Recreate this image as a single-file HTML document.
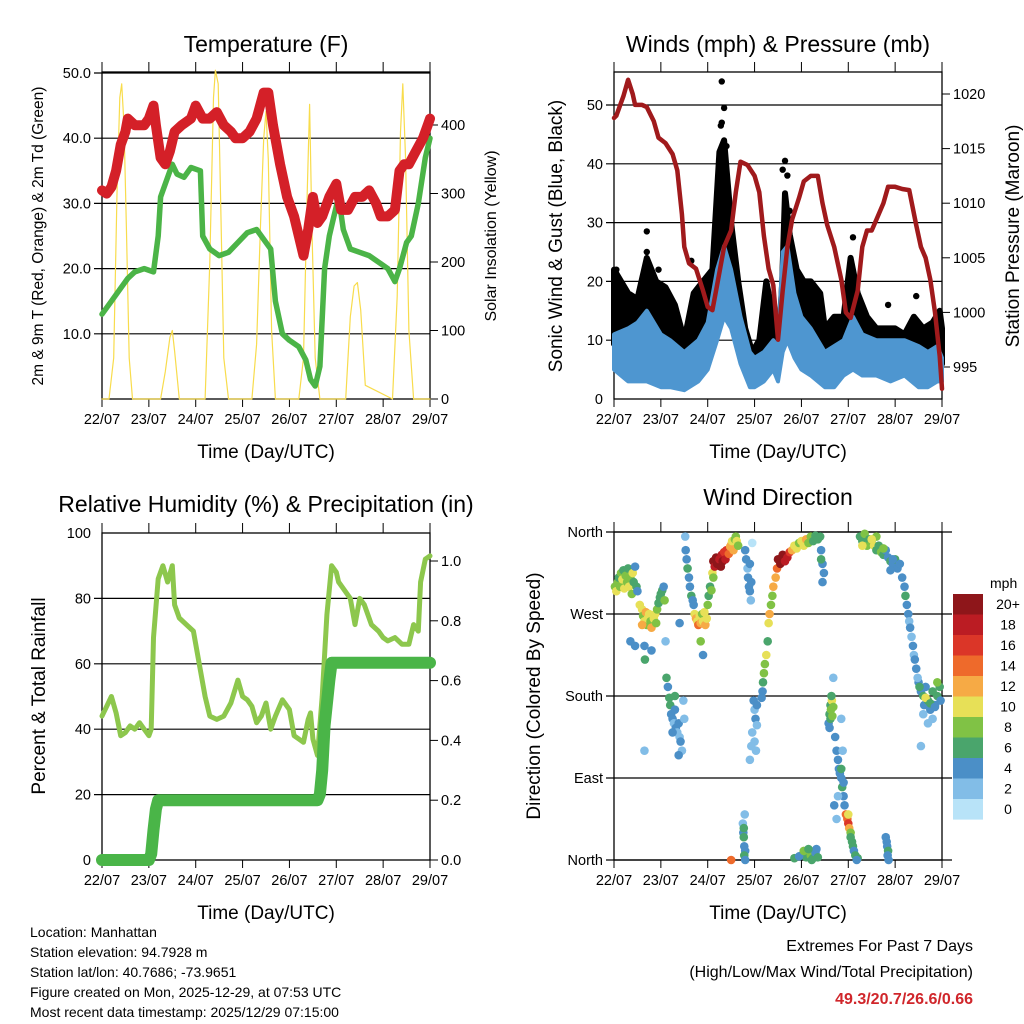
<!DOCTYPE html>
<html><head><meta charset="utf-8"><style>
html,body{margin:0;padding:0;background:#fff;}
svg{display:block;font-family:"Liberation Sans",sans-serif;}
</style></head><body>
<svg id="s" width="1024" height="1024" viewBox="0 0 1024 1024" xmlns="http://www.w3.org/2000/svg">
<text x="266" y="52" font-size="23" text-anchor="middle">Temperature (F)</text>
<text x="778" y="52" font-size="23" text-anchor="middle">Winds (mph) &amp; Pressure (mb)</text>
<text x="266" y="512" font-size="23" text-anchor="middle">Relative Humidity (%) &amp; Precipitation (in)</text>
<text x="778" y="505" font-size="23" text-anchor="middle">Wind Direction</text>
<text transform="translate(43,236) rotate(-90)" font-size="15.5" text-anchor="middle">2m &amp; 9m T (Red, Orange) &amp; 2m Td (Green)</text>
<text transform="translate(496,236) rotate(-90)" font-size="16" text-anchor="middle">Solar Insolation (Yellow)</text>
<text transform="translate(562,236) rotate(-90)" font-size="19" text-anchor="middle">Sonic Wind &amp; Gust (Blue, Black)</text>
<text transform="translate(1019,236) rotate(-90)" font-size="19" text-anchor="middle">Station Pressure (Maroon)</text>
<text transform="translate(45,696) rotate(-90)" font-size="19" text-anchor="middle">Percent &amp; Total Rainfall</text>
<text transform="translate(540,696) rotate(-90)" font-size="19" text-anchor="middle">Direction (Colored By Speed)</text>
<text x="266" y="458" font-size="19" text-anchor="middle">Time (Day/UTC)</text>
<text x="778" y="458" font-size="19" text-anchor="middle">Time (Day/UTC)</text>
<text x="266" y="919" font-size="19" text-anchor="middle">Time (Day/UTC)</text>
<text x="778" y="919" font-size="19" text-anchor="middle">Time (Day/UTC)</text>
<g font-size="14">
<text x="30" y="937">Location: Manhattan</text>
<text x="30" y="957">Station elevation: 94.7928 m</text>
<text x="30" y="977">Station lat/lon: 40.7686; -73.9651</text>
<text x="30" y="997">Figure created on Mon, 2025-12-29, at 07:53 UTC</text>
<text x="30" y="1017">Most recent data timestamp: 2025/12/29 07:15:00</text>
</g>
<text x="973" y="951" font-size="16" text-anchor="end">Extremes For Past 7 Days</text>
<text x="973" y="977" font-size="16" text-anchor="end">(High/Low/Max Wind/Total Precipitation)</text>
<text x="973" y="1004" font-size="16" font-weight="bold" fill="#d0262b" text-anchor="end">49.3/20.7/26.6/0.66</text>
</svg>
<script>
const dayLabels=["22/07","23/07","24/07","25/07","26/07","27/07","28/07","29/07"];
// Temperature
const tempT=[0,0.1,0.2,0.3,0.4,0.5,0.55,0.7,0.9,1.0,1.1,1.15,1.25,1.35,1.45,1.55,1.7,1.9,2.0,2.15,2.3,2.45,2.6,2.75,2.85,3.0,3.15,3.3,3.45,3.55,3.65,3.8,3.95,4.1,4.2,4.3,4.4,4.5,4.6,4.7,4.85,5.0,5.1,5.25,5.4,5.55,5.7,5.85,5.95,6.1,6.25,6.35,6.45,6.55,6.7,6.85,6.95,7.0];
const tempV=[32,31.5,32.5,35,39,41,43,42,42,43,45,42,37,36,38,41,42,43,45,43,43,44,42,41,40,40,41,43,47,47,42,36,31,28,25,22,26,31,27,28,31,33,29,29,31,31,32,30,28,28,29,35,36,36,38,40,42,43];
const dewT=[0,0.2,0.4,0.55,0.7,0.9,1.1,1.2,1.25,1.35,1.5,1.6,1.75,1.9,2.1,2.15,2.3,2.5,2.7,2.9,3.1,3.3,3.5,3.6,3.7,3.85,4.0,4.2,4.35,4.45,4.55,4.65,4.75,4.85,4.95,5.05,5.15,5.3,5.5,5.7,5.9,6.1,6.25,6.35,6.5,6.6,6.75,6.9,7.0];
const dewV=[13,15,17,18.5,19.5,20,19.5,25,31,33,36,34.5,34,35.5,35,25,23,22,22.5,24,25.5,26,24,23,15,10,9,8,6,3,2,5,20,25,28,31,26,23,22.5,22,21,20,18,20,24,25,30,37,40];
const solT=[0,0.15,0.25,0.32,0.38,0.42,0.47,0.52,0.58,0.65,1.25,1.35,1.45,1.5,1.55,1.65,2.2,2.3,2.38,2.42,2.48,2.53,2.6,2.7,3.2,3.3,3.38,3.45,3.5,3.55,3.62,3.7,4.2,4.3,4.38,4.43,4.48,4.55,4.65,5.2,5.3,5.38,5.45,5.52,5.62,6.2,6.3,6.37,6.42,6.48,6.55,6.65,7.0];
const solV=[0,0,60,300,440,460,400,250,60,0,0,40,90,100,70,0,0,200,440,480,460,300,60,0,0,80,250,380,420,350,100,0,0,60,300,430,250,60,0,0,120,165,170,130,20,0,150,390,460,350,100,0,0];
// Winds
const windT=[0,0.3,0.5,0.7,1.0,1.2,1.5,1.8,2.0,2.2,2.35,2.5,2.7,2.9,3.0,3.2,3.4,3.5,3.6,3.7,3.85,4.0,4.2,4.5,4.7,4.9,5.1,5.3,5.6,5.9,6.2,6.5,6.7,6.9,7.0];
const sonicLo=[5,3,3,3,2,2,1.5,3,5,10,14,12,6,2,2,3,5,3,8,10,7,5,4,2,2,4,5,4,4,3,4,2,2,3,3];
const sonicHi=[11,12,13,15,11,10,8,10,13,22,26,22,14,8,7,8,10,9,25,26,18,14,12,8,9,10,14,11,10,10,10,9,8,9,7];
const gustT=[0,0.3,0.5,0.7,0.9,1.1,1.3,1.5,1.7,1.9,2.1,2.25,2.35,2.5,2.65,2.8,2.95,3.1,3.25,3.4,3.55,3.65,3.75,3.9,4.05,4.2,4.4,4.5,4.7,4.9,5.05,5.2,5.4,5.6,5.8,6.0,6.2,6.4,6.6,6.8,6.95,7.0];
const gustHi=[22,18,17,24,20,19,16,10,18,20,22,42,44,30,20,12,8,10,20,14,10,35,28,22,20,20,18,12,14,14,24,18,14,12,12,12,11,14,12,13,15,12];
const gustDotT=[2.3,2.35,2.3,2.28,0.7,0.7,3.65,3.6,3.7,1.65,5.1,6.45,0.95,5.85,0.05,2.4,3.75];
const gustDotV=[54,49.5,47,46.5,28.5,25,40.5,39,38,23.5,27.5,17.5,22,16,22,43,32];
const presT=[0,0.05,0.2,0.3,0.4,0.45,0.6,0.7,0.85,0.95,1.1,1.25,1.35,1.45,1.5,1.6,1.75,1.9,2.0,2.1,2.2,2.35,2.5,2.6,2.7,2.85,3.0,3.1,3.2,3.3,3.4,3.5,3.6,3.7,3.8,3.95,4.05,4.2,4.35,4.45,4.55,4.7,4.85,4.95,5.05,5.2,5.3,5.4,5.5,5.6,5.75,5.85,6.0,6.15,6.3,6.45,6.55,6.65,6.75,6.85,6.95,7.0];
const presV=[1017.8,1018,1019.8,1021.3,1020,1019,1019,1018.8,1017.5,1016,1015.5,1014.5,1013,1009,1006,1004.5,1004,1002,1000.5,1000.2,1002.5,1006,1007.5,1011,1013.8,1013.5,1012.5,1011,1007,1004,1002.5,997.5,1002,1006,1008.5,1010.5,1012,1012.5,1012.5,1010,1008,1006,1003,1000,999.5,1002,1006,1007.5,1007.5,1008.5,1010,1011.5,1011.5,1011.3,1011.2,1008,1006,1005,1003,1000,996,993];
// Humidity & precipitation
const rhT=[0,0.1,0.2,0.3,0.4,0.5,0.6,0.7,0.8,0.9,1.0,1.05,1.1,1.2,1.3,1.4,1.5,1.55,1.65,1.8,1.95,2.1,2.2,2.3,2.45,2.6,2.75,2.9,3.0,3.1,3.2,3.3,3.4,3.5,3.6,3.7,3.85,4.0,4.1,4.2,4.3,4.4,4.45,4.5,4.6,4.7,4.8,4.9,5.0,5.05,5.15,5.3,5.4,5.5,5.6,5.75,5.9,6.0,6.1,6.25,6.4,6.55,6.65,6.75,6.8,6.9,7.0];
const rhV=[44,47,50,45,38,39,41,40,42,40,38,40,68,86,90,85,90,78,74,72,70,58,50,44,43,44,48,55,50,49,47,42,44,48,40,44,49,46,38,37,36,43,45,37,32,50,75,90,88,85,83,80,72,80,78,72,70,68,67,68,66,66,72,70,85,92,93];
const rainT=[0,1.0,1.05,1.1,1.15,1.2,1.5,4.6,4.65,4.7,4.75,4.85,4.9,7.0];
const rainV=[0,0,0.02,0.1,0.17,0.2,0.2,0.2,0.22,0.3,0.45,0.6,0.66,0.66];
// Wind direction (day, degrees, mph) — rows of 10
const dirT=[
0.02,0.05,0.08,0.1,0.13,0.15,0.18,0.2,0.22,0.25,
0.28,0.3,0.32,0.35,0.38,0.4,0.42,0.45,0.48,0.5,
0.55,0.6,0.62,0.65,0.68,0.7,0.72,0.75,0.78,0.8,
0.85,0.88,0.9,0.92,0.95,0.98,1.0,1.03,1.06,1.08,
0.35,0.45,0.65,0.66,0.8,1.1,0.6,1.4,1.85,1.9,
1.12,1.15,1.18,1.2,1.22,1.25,1.28,1.3,1.32,1.35,
1.38,1.4,1.42,1.45,1.48,1.5,1.38,1.3,1.25,0.65,
1.52,1.53,1.55,1.57,1.6,1.62,1.65,1.68,1.7,1.72,
1.75,1.78,1.8,1.83,1.85,1.88,1.9,1.93,1.95,1.98,
2.0,2.02,2.05,2.08,2.1,2.12,2.12,2.15,2.18,2.2,
2.25,2.28,2.3,2.32,2.35,2.38,2.4,2.45,2.48,2.5,
2.52,2.55,2.58,2.6,2.62,2.65,2.8,2.82,2.85,2.86,
2.88,2.9,2.92,2.93,2.95,2.9,2.75,2.76,2.77,2.78,
2.8,2.78,2.8,2.5,2.79,2.77,2.98,3.0,3.02,3.05,
2.95,3.0,3.03,3.05,2.9,2.93,3.15,3.17,3.18,3.2,
3.22,3.25,3.28,3.3,3.32,3.35,3.38,3.4,3.45,3.48,
3.5,3.55,3.6,3.65,3.7,3.75,3.8,3.85,3.9,3.95,
4.0,4.05,4.1,4.15,4.2,4.25,4.3,4.35,4.4,4.42,
4.45,4.48,4.45,4.42,4.0,4.1,4.2,4.25,4.3,4.32,
3.85,3.95,4.05,4.15,4.22,4.35,4.58,4.6,4.62,4.63,
4.65,4.62,4.6,4.66,4.68,4.64,4.72,4.75,4.78,4.8,
4.82,4.85,4.87,4.9,4.92,4.95,4.98,5.0,5.02,5.05,
5.08,5.1,5.12,5.15,5.2,5.18,4.85,4.88,4.7,4.75,
4.85,5.0,5.05,4.9,4.78,4.68,5.25,5.3,5.35,5.4,
5.45,5.5,5.55,5.6,5.65,5.7,5.75,5.8,5.85,5.9,
5.95,6.0,6.05,6.1,5.3,5.6,5.8,5.82,5.83,5.85,
5.84,5.86,5.5,5.75,5.95,5.9,6.15,6.2,6.22,6.25,
6.28,6.3,6.32,6.35,6.38,6.4,6.5,6.55,6.6,6.62,
6.65,6.7,6.75,6.8,6.85,6.9,6.95,6.97,6.6,6.7,
6.8,6.55,6.9,6.65,6.75,6.85,6.45,6.48,6.42,6.52];
const dirV=[
300,295,305,310,300,315,308,318,298,312,
305,320,300,310,292,315,305,322,300,295,
280,275,268,262,272,258,265,270,262,255,
265,270,260,275,282,288,292,296,300,285,
240,235,235,220,230,240,258,260,240,225,
200,190,178,170,160,155,150,165,145,140,
150,135,130,120,175,155,115,180,140,120,
355,340,330,320,310,300,290,285,280,270,
265,262,258,268,260,270,262,272,258,265,
280,290,300,296,315,310,328,322,332,325,
330,322,335,328,338,330,340,336,344,346,
350,340,352,355,350,345,340,330,320,310,
300,295,285,305,348,325,40,30,25,15,
10,5,0,0,50,35,175,165,155,148,
140,130,120,170,110,125,178,185,195,205,
215,225,240,260,270,280,290,300,310,320,
330,325,335,328,332,338,340,345,342,348,
350,345,352,348,355,350,356,352,355,340,
325,315,305,330,5,3,5,2,8,12,
2,4,10,12,0,3,150,160,170,165,
175,155,145,158,168,180,135,120,110,100,
95,90,80,70,60,50,45,40,35,30,
20,15,10,5,2,0,155,120,60,45,
100,50,25,85,70,200,355,350,358,345,
352,348,345,340,345,338,335,340,332,328,
325,330,320,325,345,355,25,20,15,10,
5,0,352,342,330,318,310,300,290,280,
270,262,255,245,235,225,195,185,180,170,
190,175,165,185,170,180,190,175,160,150,
155,125,195,178,172,168,210,200,220,190];
const dirS=[
9,10,8,7,9,8,10,7,11,8,
9,7,10,9,8,10,7,5,6,4,
10,11,9,10,12,8,11,10,9,12,
10,11,9,8,7,6,7,6,5,9,
4,4,5,6,4,3,13,4,8,4,
6,5,7,6,4,4,3,5,4,3,
4,3,4,2,3,2,4,6,4,2,
2,5,5,6,5,4,6,4,5,10,
12,11,14,10,12,9,11,10,12,11,
8,7,6,8,10,8,20,19,20,21,
19,20,18,20,17,19,16,14,12,13,
11,12,9,8,10,9,5,4,3,4,
5,4,3,5,1,4,3,5,6,5,
4,6,5,14,3,7,4,3,4,3,
2,2,3,4,2,2,4,5,6,8,
9,10,7,10,12,8,9,12,13,14,
20,21,20,19,18,17,12,11,10,9,
11,10,12,9,8,7,6,7,6,4,
4,5,4,6,6,7,8,6,5,4,
6,5,8,6,7,6,4,6,7,8,
10,7,5,9,8,6,4,4,5,4,
5,4,6,4,5,14,15,17,12,8,
7,6,5,6,6,5,2,3,4,2,
6,10,6,4,3,2,6,7,8,9,
6,8,10,7,6,8,6,5,4,6,
5,6,4,5,10,8,4,5,4,6,
4,5,10,8,4,5,5,4,6,5,
4,3,4,3,4,2,4,5,6,4,
5,6,4,7,5,6,7,5,3,2,
3,2,8,10,6,4,4,3,5,6];
const legendLabels=["0","2","4","6","8","10","12","14","16","18","20+"];
const legendColors=["#b8e3f8","#82bde7","#4b8fc7","#4aa56c","#80c245","#e7e057","#f6aa45","#ee6a2b","#db3628","#bb1c23","#8e161a"];

const S=document.getElementById('s');
const NS="http://www.w3.org/2000/svg";
function el(tag,parent){const e=document.createElementNS(NS,tag);(parent||S).appendChild(e);return e;}
function set(e,o){for(const k in o)e.setAttribute(k,o[k]);return e;}
const P={tl:{x0:102,x1:430,yt:72,yb:399},tr:{x0:614,x1:942,yt:72,yb:399},bl:{x0:102,x1:430,yt:533,yb:860},br:{x0:614,x1:942,yt:532,yb:860}};
function xs(p,t){return p.x0+t/7*(p.x1-p.x0);}
function lin(d0,d1,r0,r1){return v=>r0+(v-d0)/(d1-d0)*(r1-r0);}
const yT=lin(0,50,399,73), yS=lin(0,400,399,125);
const yW=lin(0,50,399,105), yP=lin(995,1020,367,94);
const yRH=lin(0,100,860,533), yR=lin(0,1,860,561);
const yD=lin(0,360,860,532);

function frame(p,name,leftTicks,leftFmt,yl,rightTicks,rightFmt,yr,grid){
  const g=el('g');
  
  
  for(const v of grid){const y=yl(v);const l=el('line',g);set(l,{x1:p.x0-8,x2:p.x1+(name==='br'?10:0),y1:y,y2:y,stroke:'#000','stroke-width':1.2});
    
    }
  const r=el('rect',g);set(r,{x:p.x0,y:p.yt,width:p.x1-p.x0,height:p.yb-p.yt,fill:'none',stroke:'#000','stroke-width':1.3});
  
  
  for(let i=0;i<8;i++){const x=xs(p,i);
    const t=el('line',g);set(t,{x1:x,x2:x,y1:p.yb,y2:p.yb+8,stroke:'#000'});
    
    
    const t2=el('line',g);set(t2,{x1:x,x2:x,y1:p.yt-10,y2:p.yt,stroke:'#000'});
    
    
    const tx=el('text',g);set(tx,{x:x,y:p.yb+25,'font-size':14.5,'text-anchor':'middle'});tx.textContent=dayLabels[i];
    
    }
  for(const v of leftTicks){const y=yl(v);
    const tx=el('text',g);set(tx,{x:p.x0-11,y:y+5,'font-size':14.5,'text-anchor':'end'});tx.textContent=leftFmt(v);
    
    }
  if(rightTicks)for(const v of rightTicks){const y=yr(v);
    const t=el('line',g);set(t,{x1:p.x1,x2:p.x1+8,y1:y,y2:y,stroke:'#000'});
    
    
    const tx=el('text',g);set(tx,{x:p.x1+11,y:y+5,'font-size':14.5});tx.textContent=rightFmt(v);
    
    }
}
function path(p,T,V,ys,attrs,name){
  const d=T.map((t,i)=>(i?'L':'M')+xs(p,t).toFixed(1)+','+ys(V[i]).toFixed(1)).join('');
  const e=el('path');set(e,Object.assign({d:d,fill:'none','stroke-linejoin':'round','stroke-linecap':'round'},attrs));
  
  
  return e;
}
// Temperature panel
frame(P.tl,'tl',[10,20,30,40,50],v=>v.toFixed(1),yT,[0,100,200,300,400],v=>String(v),yS,[10,20,30,40,50]);
path(P.tl,solT,solV,yS,{stroke:'#f8dc4c','stroke-width':1.2},'solar-insolation-line');
path(P.tl,dewT,dewV,yT,{stroke:'#4bb447','stroke-width':5.5},'dewpoint-line');
path(P.tl,tempT,tempV,yT,{stroke:'#d42028','stroke-width':10},'temperature-line');
// Winds panel
frame(P.tr,'tr',[0,10,20,30,40,50],v=>String(v),yW,[995,1000,1005,1010,1015,1020],v=>String(v),yP,[10,20,30,40,50]);
(function(){const p=P.tr;
 const up=gustT.map((t,i)=>xs(p,t).toFixed(1)+','+yW(gustHi[i]).toFixed(1));
 const lo=windT.map((t,i)=>xs(p,t).toFixed(1)+','+yW(sonicHi[i]*0.85).toFixed(1)).reverse();
 const g=el('polygon');set(g,{points:up.concat(lo).join(' '),fill:'#000',stroke:'#000','stroke-width':6,'stroke-linejoin':'round'});
 
 
 const bu=windT.map((t,i)=>xs(p,t).toFixed(1)+','+yW(sonicHi[i]).toFixed(1));
 const bl=windT.map((t,i)=>xs(p,t).toFixed(1)+','+yW(sonicLo[i]).toFixed(1)).reverse();
 const b=el('polygon');set(b,{points:bu.concat(bl).join(' '),fill:'#4e96d0',stroke:'#4e96d0','stroke-width':4,'stroke-linejoin':'round'});
 
 
 gustDotT.forEach((t,i)=>{const c=el('circle');set(c,{cx:xs(p,t),cy:yW(gustDotV[i]),r:3.2,fill:'#000'});
  
  });
})();
path(P.tr,presT,presV,yP,{stroke:'#a01a1c','stroke-width':4.5},'pressure-line');
// Humidity panel
frame(P.bl,'bl',[0,20,40,60,80,100],v=>String(v),yRH,[0,0.2,0.4,0.6,0.8,1.0],v=>v.toFixed(1),yR,[20,40,60,80]);
path(P.bl,rhT,rhV,yRH,{stroke:'#8dc74d','stroke-width':5},'humidity-line');
path(P.bl,rainT,rainV,yR,{stroke:'#4ab548','stroke-width':12},'precipitation-line');
// Direction panel
frame(P.br,'br',[0,90,180,270,360],v=>({0:'North',90:'East',180:'South',270:'West',360:'North'})[v],yD,null,null,null,[0,90,180,270,360]);
dirT.forEach((t,i)=>{const c=el('circle');
 const k=Math.min(10,Math.floor(dirS[i]/2));
 set(c,{cx:xs(P.br,t),cy:yD(dirV[i]),r:4.3,fill:legendColors[k]});
 
 });
// Legend
(function(){const lg=el('g');
 
 
 const t=el('text',lg);set(t,{x:990,y:588,'font-size':14});t.textContent='mph';
 
 
 for(let i=0;i<11;i++){const j=10-i;const y=594+i*20.5;
  const r=el('rect',lg);set(r,{x:953,y:y,width:30,height:20.6,fill:legendColors[j]});
  
  
  const tx=el('text',lg);set(tx,{x:1008,y:y+15,'font-size':14,'text-anchor':'middle'});tx.textContent=legendLabels[j];
  
  }
})();
</script>
</body></html>
